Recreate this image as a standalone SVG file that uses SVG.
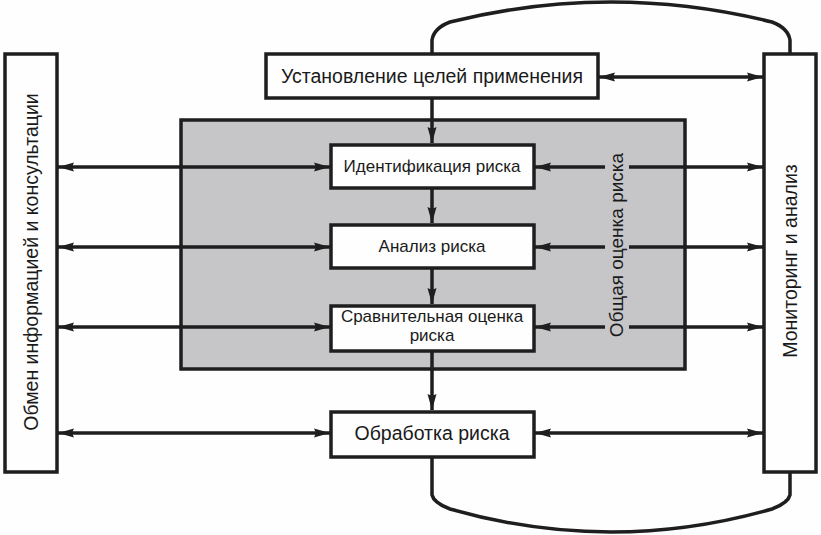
<svg xmlns="http://www.w3.org/2000/svg" width="821" height="535" viewBox="0 0 821 535">
<defs>
<style>
.box{fill:#fefefe;stroke:#1e1e1e;stroke-width:3.5}
.line{fill:none;stroke:#1e1e1e;stroke-width:3.5}
.t{font-family:"Liberation Sans",Arial,sans-serif;fill:#1a1a1a;text-anchor:middle}
</style>
<marker id="ah" markerUnits="userSpaceOnUse" markerWidth="17" markerHeight="10" refX="16" refY="5" orient="auto-start-reverse" viewBox="0 0 17 10">
<path d="M0,0.5 L16,5 L0,9.5 L2,5 z" fill="#1e1e1e"/>
</marker>
</defs>
<rect width="821" height="535" fill="#fefefe"/>
<g id="assessment">
<rect x="181" y="120" width="504" height="249" fill="#c6c6c8" stroke="#1e1e1e" stroke-width="3.5"/>
</g>
<g id="connectors">
<path class="line" d="M432,54 L432,40 Q434,28 450,22 Q611,-18 772,22 Q788,28 790,40 L790,53"/>
<path class="line" d="M432,457 L432,495 Q434,503 450,509 Q611,555 772,509 Q788,503 790,495 L790,472"/>
<line class="line" x1="432" y1="98" x2="432" y2="143" marker-end="url(#ah)"/>
<line class="line" x1="432" y1="188" x2="432" y2="223" marker-end="url(#ah)"/>
<line class="line" x1="432" y1="268" x2="432" y2="304" marker-end="url(#ah)"/>
<line class="line" x1="432" y1="351" x2="432" y2="410" marker-end="url(#ah)"/>
<line class="line" x1="599" y1="77" x2="763" y2="77" marker-start="url(#ah)" marker-end="url(#ah)"/>
<line class="line" x1="58" y1="167" x2="330" y2="167" marker-start="url(#ah)" marker-end="url(#ah)"/>
<line class="line" x1="58" y1="247" x2="330" y2="247" marker-start="url(#ah)" marker-end="url(#ah)"/>
<line class="line" x1="58" y1="327" x2="330" y2="327" marker-start="url(#ah)" marker-end="url(#ah)"/>
<line class="line" x1="58" y1="433" x2="330" y2="433" marker-start="url(#ah)" marker-end="url(#ah)"/>
<line class="line" x1="535" y1="167" x2="763" y2="167" marker-start="url(#ah)" marker-end="url(#ah)"/>
<line class="line" x1="535" y1="247" x2="763" y2="247" marker-start="url(#ah)" marker-end="url(#ah)"/>
<line class="line" x1="535" y1="327" x2="763" y2="327" marker-start="url(#ah)" marker-end="url(#ah)"/>
<line class="line" x1="535" y1="433" x2="763" y2="433" marker-start="url(#ah)" marker-end="url(#ah)"/>
</g>
<g id="assessment-label">
<rect x="605" y="142" width="24" height="203" fill="#c6c6c8"/>
<text class="t" x="0" y="0" font-size="19" transform="translate(623,245) rotate(-90)">Общая оценка риска</text>
</g>
<g id="communication">
<rect class="box" x="5" y="54" width="52" height="418"/>
<text class="t" x="0" y="0" font-size="19.5" transform="translate(38,262) rotate(-90)">Обмен информацией и консультации</text>
</g>
<g id="monitoring">
<rect class="box" x="764" y="54" width="52" height="418"/>
<text class="t" x="0" y="0" font-size="19.5" transform="translate(797,261) rotate(-90)">Мониторинг и анализ</text>
</g>
<g id="context">
<rect class="box" x="266" y="54" width="332" height="44"/>
<text class="t" x="432" y="83" font-size="19.5">Установление целей применения</text>
</g>
<g id="identification">
<rect class="box" x="331" y="145" width="203" height="43"/>
<text class="t" x="432" y="172" font-size="17">Идентификация риска</text>
</g>
<g id="analysis">
<rect class="box" x="331" y="225" width="203" height="43"/>
<text class="t" x="432" y="252" font-size="17">Анализ риска</text>
</g>
<g id="evaluation">
<rect class="box" x="331" y="306" width="203" height="45"/>
<text class="t" x="432" y="322" font-size="17">Сравнительная оценка</text>
<text class="t" x="432" y="341" font-size="17">риска</text>
</g>
<g id="treatment">
<rect class="box" x="331" y="412" width="203" height="45"/>
<text class="t" x="432" y="440" font-size="19.5">Обработка риска</text>
</g>
</svg>
